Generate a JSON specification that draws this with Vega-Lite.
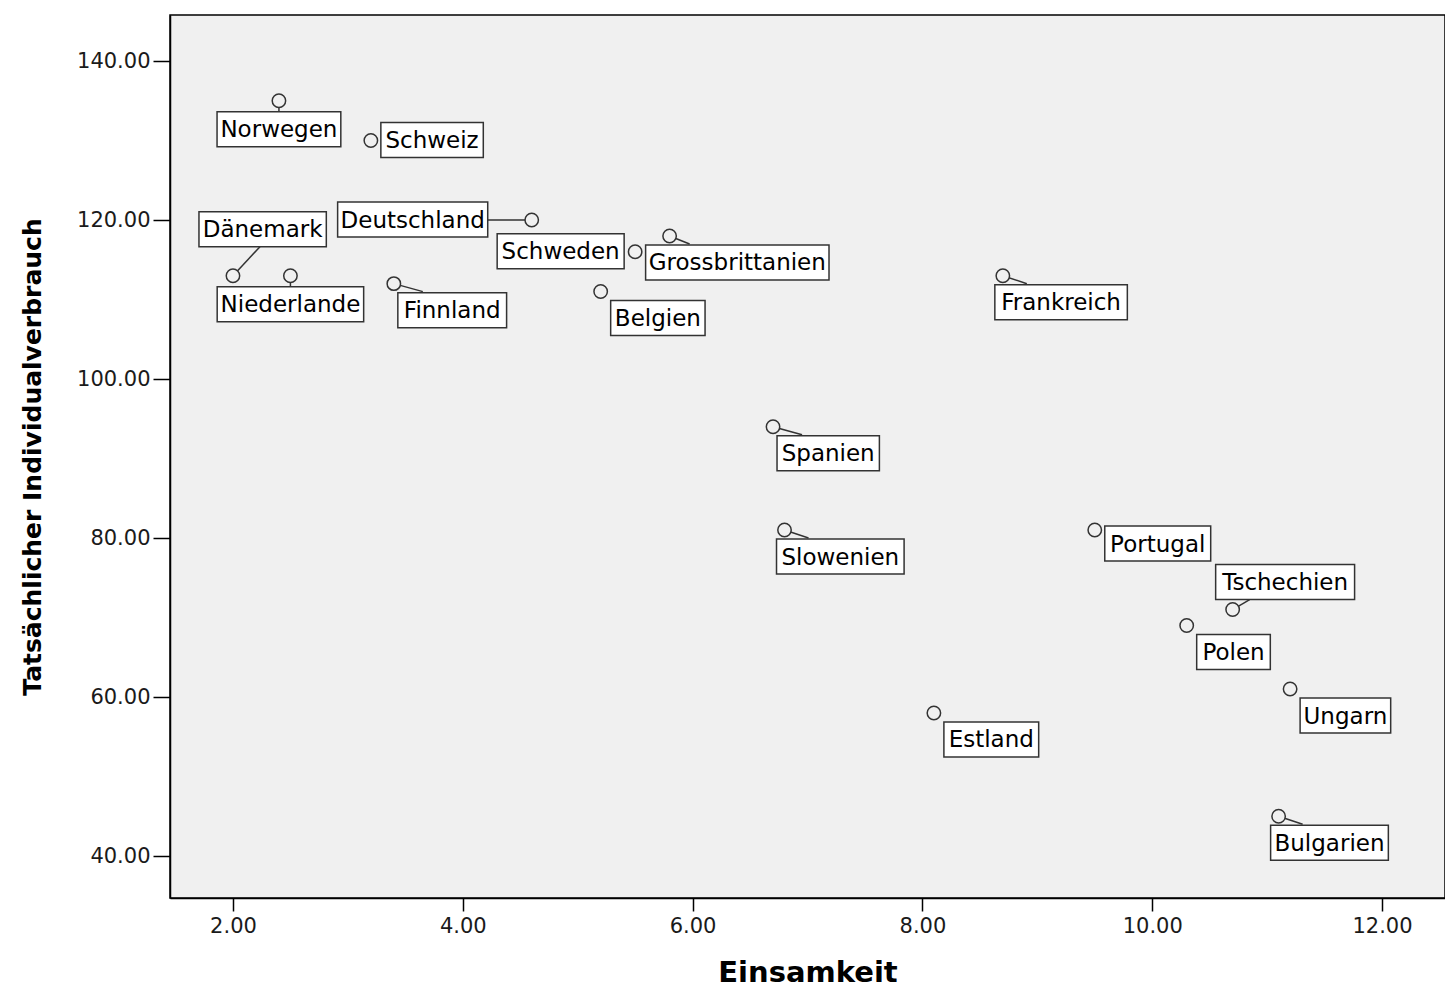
{
  "$schema": "https://vega.github.io/schema/vega-lite/v6.json",
  "autosize": "none",
  "padding": {"left": 170, "top": 15, "right": 0, "bottom": 92},
  "width": 1275,
  "height": 883,
  "background": "white",
  "config": {
    "view": {"fill": "#f0f0f0", "stroke": "#000000", "strokeWidth": 1.5},
    "font": "DejaVu Sans"
  },
  "data": {
    "values": [
      {"label": "Norwegen", "x": 2.4, "y": 135, "pos": "bc"},
      {"label": "Schweiz", "x": 3.2, "y": 130, "pos": "r"},
      {"label": "Deutschland", "x": 4.6, "y": 120, "pos": "ll"},
      {"label": "Dänemark", "x": 2.0, "y": 113, "pos": "a"},
      {"label": "Niederlande", "x": 2.5, "y": 113, "pos": "bc"},
      {"label": "Finnland", "x": 3.4, "y": 112, "pos": "bs"},
      {"label": "Schweden", "x": 5.5, "y": 116, "pos": "l"},
      {"label": "Grossbrittanien", "x": 5.8, "y": 118, "pos": "bw"},
      {"label": "Belgien", "x": 5.2, "y": 111, "pos": "br"},
      {"label": "Frankreich", "x": 8.7, "y": 113, "pos": "b"},
      {"label": "Spanien", "x": 6.7, "y": 94, "pos": "bs"},
      {"label": "Slowenien", "x": 6.8, "y": 81, "pos": "b"},
      {"label": "Portugal", "x": 9.5, "y": 81, "pos": "rb"},
      {"label": "Tschechien", "x": 10.7, "y": 71, "pos": "ar"},
      {"label": "Polen", "x": 10.3, "y": 69, "pos": "br"},
      {"label": "Ungarn", "x": 11.2, "y": 61, "pos": "br"},
      {"label": "Estland", "x": 8.1, "y": 58, "pos": "br"},
      {"label": "Bulgarien", "x": 11.1, "y": 45, "pos": "b"}
    ]
  },
  "encoding": {
    "x": {
      "field": "x", "type": "quantitative",
      "scale": {"domain": [1.452, 12.548], "nice": false, "zero": false},
      "axis": {
        "title": "Einsamkeit", "values": [2, 4, 6, 8, 10, 12], "format": ".2f",
        "grid": false, "domainColor": "#000000", "domainWidth": 1.5,
        "tickColor": "#000000", "tickWidth": 1.5, "tickSize": 13,
        "labelFontSize": 21, "labelColor": "#1a1a1a", "labelPadding": 4, "labelFont": "DejaVu Sans",
        "titleFontSize": 29, "titleFontWeight": "bold", "titleColor": "#000000", "titlePadding": 22, "titleFont": "DejaVu Sans"
      }
    },
    "y": {
      "field": "y", "type": "quantitative",
      "scale": {"domain": [34.72, 145.79], "nice": false, "zero": false},
      "axis": {
        "title": "Tatsächlicher Individualverbrauch", "values": [40, 60, 80, 100, 120, 140], "format": ".2f",
        "grid": false, "domainColor": "#000000", "domainWidth": 1.5,
        "tickColor": "#000000", "tickWidth": 1.5, "tickSize": 17,
        "labelFontSize": 21, "labelColor": "#1a1a1a", "labelPadding": 3, "labelFont": "DejaVu Sans",
        "titleFontSize": 25, "titleFontWeight": "bold", "titleColor": "#000000", "titlePadding": 31, "titleFont": "DejaVu Sans"
      }
    }
  },
  "layer": [
    {
      "mark": {
        "type": "rule", "stroke": "#333333", "strokeWidth": 1.5,
        "x2Offset": {"expr": "datum.pos=='ll' ? -44 : datum.pos=='b' ? 24 : datum.pos=='bs' ? 29 : datum.pos=='bw' ? 20 : datum.pos=='a' ? 27 : datum.pos=='ar' ? 17 : 0"},
        "y2Offset": {"expr": "datum.pos=='bc' ? 11 : (datum.pos=='b' || datum.pos=='bs' || datum.pos=='bw') ? 8 : datum.pos=='a' ? -29 : datum.pos=='ar' ? -10 : 0"}
      },
      "encoding": {"x2": {"field": "x"}, "y2": {"field": "y"}}
    },
    {
      "mark": {
        "type": "rect", "fill": "#ffffff", "stroke": "#333333", "strokeWidth": 1.5,
        "xOffset": {"expr": "datum.pos=='bc' ? -(23*(0.625*length(datum.label)-0.347*length(replace(datum.label,regexp('[^il]','g'),''))-0.235*length(replace(datum.label,regexp('[^tfr]','g'),''))-0.095*length(replace(datum.label,regexp('[^csz]','g'),''))+0.349*length(replace(datum.label,regexp('[^m]','g'),''))+0.193*length(replace(datum.label,regexp('[^w]','g'),''))+0.075*length(replace(datum.label,regexp('[^A-Z]','g'),'')))+8)/2 : datum.pos=='l' ? -11-(23*(0.625*length(datum.label)-0.347*length(replace(datum.label,regexp('[^il]','g'),''))-0.235*length(replace(datum.label,regexp('[^tfr]','g'),''))-0.095*length(replace(datum.label,regexp('[^csz]','g'),''))+0.349*length(replace(datum.label,regexp('[^m]','g'),''))+0.193*length(replace(datum.label,regexp('[^w]','g'),''))+0.075*length(replace(datum.label,regexp('[^A-Z]','g'),'')))+8) : datum.pos=='ll' ? -44-(23*(0.625*length(datum.label)-0.347*length(replace(datum.label,regexp('[^il]','g'),''))-0.235*length(replace(datum.label,regexp('[^tfr]','g'),''))-0.095*length(replace(datum.label,regexp('[^csz]','g'),''))+0.349*length(replace(datum.label,regexp('[^m]','g'),''))+0.193*length(replace(datum.label,regexp('[^w]','g'),''))+0.075*length(replace(datum.label,regexp('[^A-Z]','g'),'')))+8) : datum.pos=='b' ? -8 : datum.pos=='bs' ? 4 : datum.pos=='bw' ? -24 : datum.pos=='a' ? -34 : datum.pos=='ar' ? -17 : 10"},
        "x2Offset": {"expr": "datum.pos=='bc' ? (23*(0.625*length(datum.label)-0.347*length(replace(datum.label,regexp('[^il]','g'),''))-0.235*length(replace(datum.label,regexp('[^tfr]','g'),''))-0.095*length(replace(datum.label,regexp('[^csz]','g'),''))+0.349*length(replace(datum.label,regexp('[^m]','g'),''))+0.193*length(replace(datum.label,regexp('[^w]','g'),''))+0.075*length(replace(datum.label,regexp('[^A-Z]','g'),'')))+8)/2 : datum.pos=='l' ? -11 : datum.pos=='ll' ? -44 : (datum.pos=='b' ? -8 : datum.pos=='bs' ? 4 : datum.pos=='bw' ? -24 : datum.pos=='a' ? -34 : datum.pos=='ar' ? -17 : 10)+(23*(0.625*length(datum.label)-0.347*length(replace(datum.label,regexp('[^il]','g'),''))-0.235*length(replace(datum.label,regexp('[^tfr]','g'),''))-0.095*length(replace(datum.label,regexp('[^csz]','g'),''))+0.349*length(replace(datum.label,regexp('[^m]','g'),''))+0.193*length(replace(datum.label,regexp('[^w]','g'),''))+0.075*length(replace(datum.label,regexp('[^A-Z]','g'),'')))+8)"},
        "yOffset": {"expr": "datum.pos=='bc' ? 11 : datum.pos=='r' ? -18 : datum.pos=='rb' ? -4 : (datum.pos=='l' || datum.pos=='ll') ? -18 : datum.pos=='a' ? -64 : datum.pos=='ar' ? -45 : 9"},
        "y2Offset": {"expr": "datum.pos=='bc' ? 46 : datum.pos=='r' ? 17 : datum.pos=='rb' ? 31 : (datum.pos=='l' || datum.pos=='ll') ? 17 : datum.pos=='a' ? -29 : datum.pos=='ar' ? -10 : 44"}
      },
      "encoding": {"x2": {"field": "x"}, "y2": {"field": "y"}}
    },
    {
      "mark": {
        "type": "text", "font": "DejaVu Sans", "fontSize": 23, "color": "#000000",
        "align": "center", "baseline": "middle",
        "xOffset": {"expr": "datum.pos=='bc' ? 0 : (datum.pos=='l' ? -11 : datum.pos=='ll' ? -44 : 0) + (datum.pos=='l' || datum.pos=='ll' ? -1 : 1)*(23*(0.625*length(datum.label)-0.347*length(replace(datum.label,regexp('[^il]','g'),''))-0.235*length(replace(datum.label,regexp('[^tfr]','g'),''))-0.095*length(replace(datum.label,regexp('[^csz]','g'),''))+0.349*length(replace(datum.label,regexp('[^m]','g'),''))+0.193*length(replace(datum.label,regexp('[^w]','g'),''))+0.075*length(replace(datum.label,regexp('[^A-Z]','g'),'')))+8)/2 + (datum.pos=='b' ? -8 : datum.pos=='bs' ? 4 : datum.pos=='bw' ? -24 : datum.pos=='a' ? -34 : datum.pos=='ar' ? -17 : (datum.pos=='r' || datum.pos=='rb' || datum.pos=='br') ? 10 : 0)"},
        "yOffset": {"expr": "datum.pos=='bc' ? 29.5 : datum.pos=='r' ? 0.5 : datum.pos=='rb' ? 14.5 : (datum.pos=='l' || datum.pos=='ll') ? 0.5 : datum.pos=='a' ? -45.5 : datum.pos=='ar' ? -26.5 : 27.5"}
      },
      "encoding": {"text": {"field": "label"}}
    },
    {
      "mark": {"type": "point", "shape": "circle", "size": 180, "filled": true, "fill": "#f0f0f0", "stroke": "#333333", "strokeWidth": 1.5, "opacity": 1}
    }
  ]
}
